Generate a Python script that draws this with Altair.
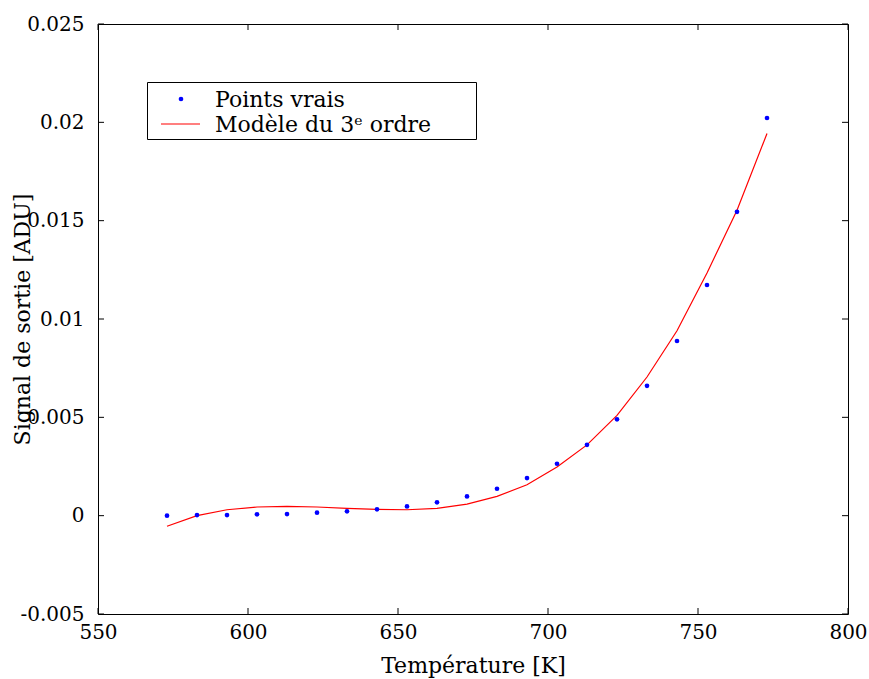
import altair as alt
import pandas as pd

temperature = [573, 583, 593, 603, 613, 623, 633, 643, 653, 663, 673,
               683, 693, 703, 713, 723, 733, 743, 753, 763, 773]
points_vrais = [0.00000, 0.00003, 0.00003, 0.00007, 0.00008, 0.00015, 0.00022,
                0.00032, 0.00047, 0.00068, 0.00098, 0.00137, 0.00191, 0.00264,
                0.00360, 0.00490, 0.00660, 0.00888, 0.01173, 0.01545, 0.02022]
modele = [-0.00054, 0.00000, 0.00030, 0.00044, 0.00047, 0.00044, 0.00037,
          0.00032, 0.00030, 0.00037, 0.00059, 0.00098, 0.00157, 0.00247,
          0.00360, 0.00510, 0.00705, 0.00940, 0.01234, 0.01553, 0.01943]
x_ticks = [550, 600, 650, 700, 750, 800]
y_ticks = [-0.005, 0.0, 0.005, 0.01, 0.015, 0.02, 0.025]
legend_labels = ["Points vrais", "Modèle du 3ᵉ ordre"]

FONT = "DejaVu Serif"
W, H = 750, 590

df = pd.DataFrame({"T": temperature, "pts": points_vrais, "mod": modele})
xt = pd.DataFrame({"x": x_ticks})
yt = pd.DataFrame({"y": y_ticks})
dummy = pd.DataFrame({"a": [0]})

xscale = alt.Scale(domain=[550, 800], nice=False, zero=False)
yscale = alt.Scale(domain=[-0.005, 0.025], nice=False, zero=False)

x_axis = alt.Axis(values=x_ticks, title="Température [K]", grid=False, domain=False,
                  tickSize=0, labelPadding=8, labelFont=FONT, labelFontSize=20,
                  labelColor="black", titleFont=FONT, titleFontSize=22,
                  titleFontWeight="normal", titleColor="black",
                  titleBaseline="alphabetic", titleY=58, labelFlush=False)
y_axis = alt.Axis(values=y_ticks, title="Signal de sortie [ADU]", grid=False, domain=False,
                  tickSize=0, labelPadding=14, labelFont=FONT, labelFontSize=20,
                  labelColor="black", titleFont=FONT, titleFontSize=22,
                  titleFontWeight="normal", titleColor="black",
                  labelExpr="replace(format(datum.value, '.3~f'), '\u2212', '-')",
                  titleX=-76, titleY=H / 2, titleAngle=270, titleBaseline="middle",
                  titleAlign="center", labelFlush=False)

line = alt.Chart(df).mark_line(color="red", strokeWidth=1.2).encode(
    x=alt.X("T:Q", scale=xscale, axis=x_axis),
    y=alt.Y("mod:Q", scale=yscale, axis=y_axis),
)
pts = alt.Chart(df).mark_point(filled=True, color="blue", size=22, opacity=1).encode(
    x=alt.X("T:Q", scale=xscale),
    y=alt.Y("pts:Q", scale=yscale),
)

tick_len = 6
xb = alt.Chart(xt).mark_rule(color="black", strokeWidth=1).encode(
    x=alt.X("x:Q", scale=xscale), y=alt.value(H), y2=alt.value(H - tick_len))
xtp = alt.Chart(xt).mark_rule(color="black", strokeWidth=1).encode(
    x=alt.X("x:Q", scale=xscale), y=alt.value(0), y2=alt.value(tick_len))
yl = alt.Chart(yt).mark_rule(color="black", strokeWidth=1).encode(
    y=alt.Y("y:Q", scale=yscale), x=alt.value(0), x2=alt.value(tick_len))
yr = alt.Chart(yt).mark_rule(color="black", strokeWidth=1).encode(
    y=alt.Y("y:Q", scale=yscale), x=alt.value(W), x2=alt.value(W - tick_len))

leg_box = alt.Chart(dummy).mark_rect(fill="white", stroke="black", strokeWidth=1).encode(
    x=alt.value(49.5), x2=alt.value(378.5), y=alt.value(58.5), y2=alt.value(115.5))
leg_pt = alt.Chart(dummy).mark_point(filled=True, color="blue", size=22, opacity=1).encode(
    x=alt.value(83), y=alt.value(75))
leg_ln = alt.Chart(dummy).mark_rule(color="red", strokeWidth=1.2).encode(
    x=alt.value(63), x2=alt.value(102), y=alt.value(100))
leg_t1 = alt.Chart(dummy).mark_text(align="left", baseline="alphabetic", font=FONT,
                                     fontSize=22, color="black").encode(
    x=alt.value(117), y=alt.value(83), text=alt.value(legend_labels[0]))
leg_t2 = alt.Chart(dummy).mark_text(align="left", baseline="alphabetic", font=FONT,
                                     fontSize=22, color="black").encode(
    x=alt.value(117), y=alt.value(108), text=alt.value(legend_labels[1]))

chart = alt.layer(line, pts, xb, xtp, yl, yr, leg_box, leg_pt, leg_ln, leg_t1, leg_t2).properties(
    width=W, height=H,
    autosize=alt.AutoSizeParams(type="none"),
    padding={"left": 98, "top": 24, "right": 21, "bottom": 65},
    background="white",
).configure_view(stroke="black", strokeWidth=1)

chart.save("out.html", embed_options={"renderer": "svg", "actions": False})
